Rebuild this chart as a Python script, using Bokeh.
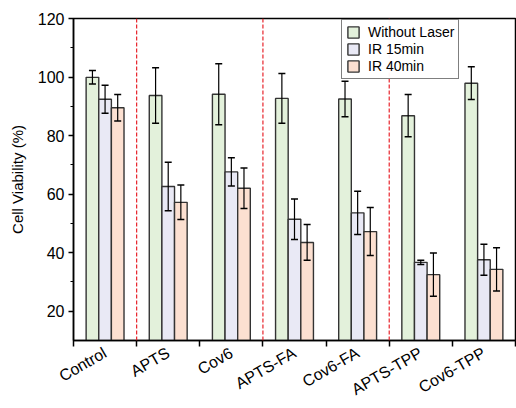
import math
from bokeh.plotting import figure
from bokeh.models import (ColumnDataSource, Whisker, Span, FixedTicker, Legend, LegendItem, Range1d)
from bokeh.embed import file_html
from bokeh.resources import INLINE

categories = ["Control", "APTS", "Cov6", "APTS-FA", "Cov6-FA", "APTS-TPP", "Cov6-TPP"]
series_names = ["Without Laser", "IR 15min", "IR 40min"]
without_laser = [99.9, 93.7, 94.1, 92.7, 92.5, 86.8, 97.9]
without_laser_err = [2.3, 9.5, 10.4, 8.5, 6.1, 7.2, 5.6]
ir_15 = [92.4, 62.6, 67.6, 51.4, 53.6, 36.7, 37.6]
ir_15_err = [4.8, 8.3, 4.8, 6.9, 7.4, 0.7, 5.3]
ir_40 = [89.5, 57.2, 62.0, 43.5, 47.2, 32.5, 34.3]
ir_40_err = [4.5, 5.9, 6.9, 6.1, 8.2, 7.4, 7.4]
y_ticks = [20, 40, 60, 80, 100, 120]
y_minor = [30, 50, 70, 90, 110]
separators = [0.5, 2.5, 4.5]

colors = ["#E3F1DB", "#E9E9F5", "#FCE0D1"]
series = [(without_laser, without_laser_err), (ir_15, ir_15_err), (ir_40, ir_40_err)]
offsets = [-0.2, 0.0, 0.2]

FONT = "Liberation Sans"

p = figure(width=516, height=408, output_backend="svg", toolbar_location=None,
           x_range=Range1d(-0.5, 6.5), y_range=Range1d(10, 120),
           min_border_left=73, min_border_right=1, min_border_top=18, min_border_bottom=66)
p.xgrid.visible = False
p.ygrid.visible = False
p.outline_line_color = "black"
p.outline_line_width = 1.5
p.background_fill_color = "white"
p.border_fill_color = "white"

xs = list(range(len(categories)))
renderers = []
for (vals, errs), off, col in zip(series, offsets, colors):
    src = ColumnDataSource(dict(
        x=[x + off for x in xs], top=vals,
        upper=[v + e for v, e in zip(vals, errs)],
        lower=[v - e for v, e in zip(vals, errs)]))
    r = p.vbar(x="x", top="top", bottom=0, width=0.2, source=src,
               fill_color=col, line_color="#333333", line_width=1.4)
    renderers.append(r)
    w = Whisker(base="x", upper="upper", lower="lower", source=src,
                line_color="black", line_width=1.2, level="overlay")
    w.upper_head.size = 7
    w.lower_head.size = 7
    w.upper_head.line_width = 1.5
    w.lower_head.line_width = 1.5
    p.add_layout(w)

for s in separators:
    p.add_layout(Span(location=s, dimension="height", line_color="#E8232A",
                      line_dash="4 2", line_width=1.2))

# x axis
p.xaxis.ticker = FixedTicker(ticks=xs, minor_ticks=[i - 0.5 for i in range(len(categories) + 1)])
p.xaxis.major_label_overrides = {i: c for i, c in enumerate(categories)}
p.xaxis.major_label_orientation = math.pi / 6
p.xaxis.major_tick_out = 0
p.xaxis.major_tick_in = 0
p.xaxis.minor_tick_out = 6
p.xaxis.minor_tick_in = 0
p.xaxis.minor_tick_line_color = "black"
p.xaxis.minor_tick_line_width = 1.5
p.xaxis.axis_line_width = 1.5
p.xaxis.axis_line_color = "black"
p.xaxis.major_label_text_font = FONT
p.xaxis.major_label_text_font_size = "16px"
p.xaxis.major_label_text_color = "black"
p.xaxis.major_label_standoff = 5

# y axis
p.yaxis.ticker = FixedTicker(ticks=y_ticks, minor_ticks=y_minor)
p.yaxis.major_tick_out = 5
p.yaxis.major_tick_in = 0
p.yaxis.minor_tick_out = 3
p.yaxis.minor_tick_in = 0
p.yaxis.major_tick_line_width = 1.5
p.yaxis.minor_tick_line_width = 1.2
p.yaxis.axis_line_width = 1.5
p.yaxis.axis_line_color = "black"
p.yaxis.major_label_text_font = FONT
p.yaxis.major_label_text_font_size = "16px"
p.yaxis.major_label_text_color = "black"
p.yaxis.major_label_standoff = 4
p.yaxis.axis_label = "Cell Viability (%)"
p.yaxis.axis_label_text_font = FONT
p.yaxis.axis_label_text_font_size = "15px"
p.yaxis.axis_label_text_font_style = "normal"
p.yaxis.axis_label_text_color = "black"
p.yaxis.axis_label_standoff = 9

legend = Legend(items=[LegendItem(label=n, renderers=[r]) for n, r in zip(series_names, renderers)],
                location=(268, 261))
legend.label_text_font = FONT
legend.label_text_font_size = "14px"
legend.label_text_color = "black"
legend.border_line_color = "black"
legend.border_line_width = 1.5
legend.padding = 4
legend.spacing = 1
legend.margin = 0
legend.glyph_height = 14
legend.glyph_width = 14
legend.label_height = 15
legend.label_standoff = 8
legend.label_text_line_height = 1.0
p.add_layout(legend, "center")

open("out.html", "w").write(file_html(p, INLINE))
